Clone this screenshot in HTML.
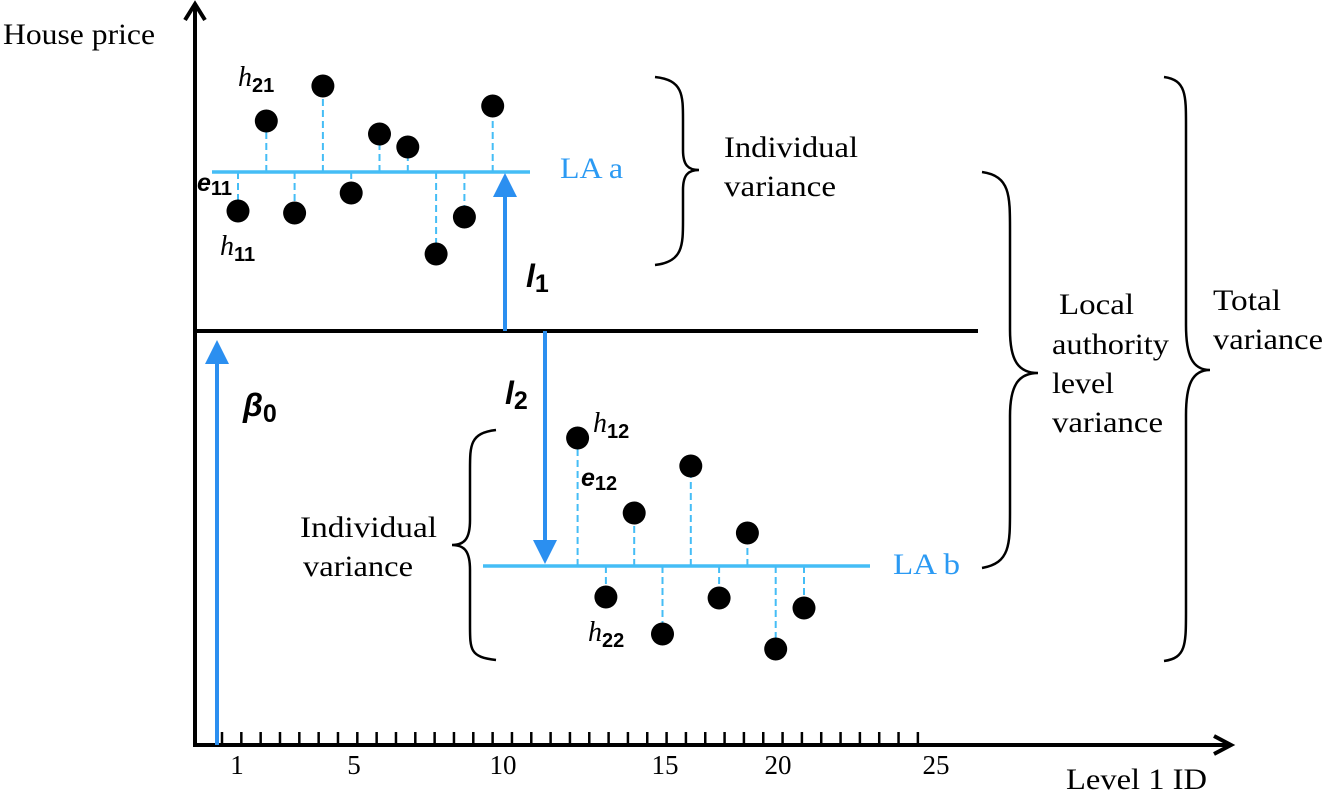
<!DOCTYPE html>
<html><head><meta charset="utf-8"><style>
html,body{margin:0;padding:0;background:#fff;}
svg{display:block;}
svg text{font-family:"Liberation Serif",serif;}
.lab{font-family:"Liberation Serif",serif;font-size:30px;fill:#000;}
.sym{font-family:"Liberation Sans","DejaVu Sans",sans-serif;font-weight:bold;}
</style></head><body>
<svg id="chart" width="1325" height="798" viewBox="0 0 1325 798">
<g id="axes">
<line x1="195" y1="745" x2="195" y2="6" stroke="#000" stroke-width="4"/>
<path d="M185,20 L195,4 L205,20" fill="none" stroke="#000" stroke-width="4"/>
<line x1="193" y1="745" x2="1230" y2="745" stroke="#000" stroke-width="4"/>
<path d="M1214,736 L1231,745 L1214,754" fill="none" stroke="#000" stroke-width="4"/>
<text x="3" y="44" class="lab" textLength="152" lengthAdjust="spacingAndGlyphs">House price</text>
<text x="1066" y="789" class="lab" textLength="141" lengthAdjust="spacingAndGlyphs">Level 1 ID</text>
</g>
<g id="ticks"></g>
<g id="marks"></g>
<g id="annot">
<path d="M655,77 C683,80 683,95 683,120 L683,150 C683,165 688,170 699,170 C688,170 683,175 683,190 L683,220 C683,245 683,262 655,265" fill="none" stroke="#000" stroke-width="2.5"/>
<text x="724" y="157" class="lab" textLength="134" lengthAdjust="spacingAndGlyphs">Individual</text>
<text x="724" y="196" class="lab" textLength="112" lengthAdjust="spacingAndGlyphs">variance</text>
<path d="M982,172 C1010,176 1010,195 1010,230 L1010,330 C1010,360 1018,373 1038,373 C1018,373 1010,386 1010,416 L1010,510 C1010,545 1010,563 982,568" fill="none" stroke="#000" stroke-width="2.5"/>
<text x="1059" y="314" class="lab" textLength="75" lengthAdjust="spacingAndGlyphs">Local</text>
<text x="1052" y="354" class="lab" textLength="117" lengthAdjust="spacingAndGlyphs">authority</text>
<text x="1052" y="393" class="lab" textLength="62" lengthAdjust="spacingAndGlyphs">level</text>
<text x="1052" y="432" class="lab" textLength="111" lengthAdjust="spacingAndGlyphs">variance</text>
<path d="M1164,77 C1186,80 1186,95 1186,125 L1186,325 C1186,355 1192,370 1210,370 C1192,370 1186,385 1186,415 L1186,610 C1186,645 1186,658 1164,661" fill="none" stroke="#000" stroke-width="2.5"/>
<text x="1213" y="310" class="lab" textLength="68" lengthAdjust="spacingAndGlyphs">Total</text>
<text x="1213" y="349" class="lab" textLength="110" lengthAdjust="spacingAndGlyphs">variance</text>
<path d="M496,430 C470,433 470,445 470,470 L470,520 C470,538 465,545 452,545 C465,545 470,552 470,570 L470,625 C470,650 470,657 496,660" fill="none" stroke="#000" stroke-width="2.5"/>
<text x="300" y="537" class="lab" textLength="137" lengthAdjust="spacingAndGlyphs">Individual</text>
<text x="303" y="576" class="lab" textLength="110" lengthAdjust="spacingAndGlyphs">variance</text>
<text x="560" y="178" class="lab" style="fill:#2b9af3" textLength="63" lengthAdjust="spacingAndGlyphs">LA a</text>
<text x="893" y="574" class="lab" style="fill:#2b9af3" textLength="67" lengthAdjust="spacingAndGlyphs">LA b</text>
<text x="238" y="86" font-size="28" font-style="italic">h<tspan class="sym" font-style="normal" font-size="20" dy="6">21</tspan></text>
<text x="220" y="255" font-size="28" font-style="italic">h<tspan class="sym" font-style="normal" font-size="20" dy="6">11</tspan></text>
<text x="197" y="191" class="sym" font-size="25" font-style="italic">e<tspan font-style="normal" font-size="20" dy="4">11</tspan></text>
<text x="593" y="432" font-size="28" font-style="italic">h<tspan class="sym" font-style="normal" font-size="20" dy="6">12</tspan></text>
<text x="581" y="486" class="sym" font-size="25" font-style="italic">e<tspan font-style="normal" font-size="20" dy="4">12</tspan></text>
<text x="588" y="641" font-size="28" font-style="italic">h<tspan class="sym" font-style="normal" font-size="20" dy="6">22</tspan></text>
<text x="526" y="287" class="sym" font-size="32" font-style="italic">l<tspan font-style="normal" font-size="25" dy="5">1</tspan></text>
<text x="505" y="404" class="sym" font-size="32" font-style="italic">l<tspan font-style="normal" font-size="25" dy="5">2</tspan></text>
<text x="243" y="416" class="sym" font-size="32" font-style="italic">β<tspan font-style="normal" font-size="25" dy="6">0</tspan></text>
</g>
</svg>
<script>
// data
const tickIds = Array.from({length:37},(_, i)=>i);
const tickLabels = ["1","5","10","15","20","25"];
const tickLabelIds = [1,5,10,15,20,25];
const laAIds = [1,2,3,4,5,6,7,8,9,10];
const laAValues = [53.4,62.4,53.2,65.9,55.2,61.1,59.8,49.1,52.8,63.9];
const laBIds = [13,14,15,16,17,18,19,20,21];
const laBValues = [30.7,14.8,23.2,11.1,27.9,14.7,21.2,9.6,13.7];
const laAMean = [57.3];
const laBMean = [17.9];
const grandMean = [41.4];

const NS='http://www.w3.org/2000/svg';
const xId = id => 209.7 + 28.3*id;
const yV = v => 745 - 10*v;
const tickX = i => 222 + 19.33*i;
const labelPos = {1:237,5:354,10:503,15:665,20:778,25:936};
const labelX = id => labelPos[id] !== undefined ? labelPos[id] : 222+19.33*(id-1);
function mk(tag, attrs, parent){const e=document.createElementNS(NS,tag);for(const k in attrs)e.setAttribute(k,attrs[k]);parent.appendChild(e);return e;}
const ticks=document.getElementById('ticks');
tickIds.forEach(i=>{
  const t=mk('line',{x1:tickX(i),y1:732,x2:tickX(i),y2:745,stroke:'#000','stroke-width':2.5},ticks);
  
  
});
tickLabels.forEach((s,k)=>{
  const t=mk('text',{x:labelX(tickLabelIds[k]),y:774,'text-anchor':'middle','font-size':27,'font-family':'Liberation Serif, serif'},ticks);
  t.textContent=s;
  
  
});
const marks=document.getElementById('marks');
const blue='#45bdf6', arrowBlue='#2b8ff0';
const gm=mk('line',{x1:195,y1:yV(grandMean[0]),x2:978,y2:yV(grandMean[0]),stroke:'#000','stroke-width':4},marks);


function cluster(ids,vals,mean,x1,x2,name){
  const ym=yV(mean);
  ids.forEach((id,k)=>{
    const s=mk('line',{x1:xId(id),y1:ym,x2:xId(id),y2:yV(vals[k]),stroke:blue,'stroke-width':2,'stroke-dasharray':'7,4'},marks);
    
    
  });
  const l=mk('line',{x1:x1,y1:ym,x2:x2,y2:ym,stroke:blue,'stroke-width':3.5},marks);
  
  
  ids.forEach((id,k)=>{
    const c=mk('circle',{cx:xId(id),cy:yV(vals[k]),r:11.5,fill:'#000'},marks);
    
    
  });
}
cluster(laAIds,laAValues,laAMean[0],212,530,'la-a');
cluster(laBIds,laBValues,laBMean[0],483,870,'la-b');
function arrow(x,yFrom,yTo,name){
  const dir=yTo<yFrom?1:-1;
  const ln=mk('line',{x1:x,y1:yFrom,x2:x,y2:yTo+dir*20,stroke:arrowBlue,'stroke-width':4},marks);
  
  
  const h=mk('polygon',{points:`${x-12},${yTo+dir*24} ${x+12},${yTo+dir*24} ${x},${yTo}`,fill:arrowBlue},marks);
  
  
}
arrow(217,745,yV(grandMean[0])+9,'beta0-arrow');
arrow(505,yV(grandMean[0]),yV(laAMean[0])+1,'l1-arrow');
arrow(545,yV(grandMean[0]),yV(laBMean[0])-2,'l2-arrow');
</script>
</body></html>
